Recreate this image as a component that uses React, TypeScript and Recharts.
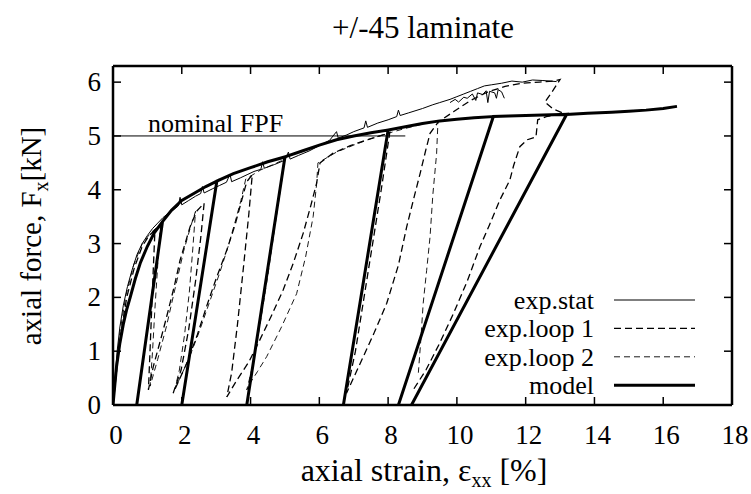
import React from 'react';
import { ComposedChart, Line, XAxis, YAxis, Legend, Customized } from 'recharts';

const xTicks = [0, 2, 4, 6, 8, 10, 12, 14, 16, 18];
const yTicks = [0, 1, 2, 3, 4, 5, 6];
const xDomain = [0, 18];
const yDomain = [0, 6.3];

const titleText = '+/-45 laminate';
const fpfLabel = 'nominal FPF';
const fpfPoints: [number, number][] = [[0, 5], [8.5, 5]];

const statPoints: [number, number][] = [
  [0, 0], [0.05, 0.45], [0.12, 1.0], [0.2, 1.45], [0.3, 1.85], [0.42, 2.2], [0.55, 2.5], [0.7, 2.8],
  [0.85, 3.0], [1.0, 3.15], [1.15, 3.28], [1.3, 3.38], [1.45, 3.48], [1.6, 3.56], [1.75, 3.62],
  [1.9, 3.7], [1.95, 3.86], [2.0, 3.72], [2.2, 3.8], [2.4, 3.88], [2.55, 3.93], [2.6, 4.06],
  [2.65, 3.94], [2.9, 4.02], [3.1, 4.08], [3.3, 4.14], [3.4, 4.29], [3.45, 4.15], [3.7, 4.22],
  [3.9, 4.28], [4.1, 4.34], [4.3, 4.38], [4.35, 4.52], [4.4, 4.4], [4.7, 4.47], [5.0, 4.55],
  [5.1, 4.7], [5.15, 4.57], [5.4, 4.64], [5.7, 4.72], [6.0, 4.82], [6.3, 4.92], [6.5, 5.08],
  [6.55, 4.96], [6.8, 5.02], [7.0, 5.08], [7.3, 5.15], [7.35, 5.28], [7.4, 5.16], [7.7, 5.24],
  [8.0, 5.3], [8.25, 5.36], [8.3, 5.48], [8.35, 5.38], [8.6, 5.43], [9.0, 5.51], [9.3, 5.58],
  [9.5, 5.62], [9.8, 5.68], [10.0, 5.73], [10.2, 5.78], [10.4, 5.83], [10.6, 5.88], [10.8, 5.93],
  [11.0, 5.95], [11.3, 5.98], [11.6, 6.02], [11.9, 6.0], [12.2, 6.04], [12.5, 6.03], [12.9, 6.01],
];

const statBandPoints: [number, number][] = [
  [9.8, 5.62], [9.95, 5.68], [10.05, 5.63], [10.2, 5.72], [10.3, 5.7], [10.45, 5.78], [10.55, 5.66],
  [10.6, 5.8], [10.75, 5.77], [10.85, 5.84], [10.9, 5.62], [10.95, 5.83], [11.1, 5.8], [11.15, 5.7],
  [11.2, 5.86], [11.3, 5.82], [11.38, 5.7],
];

const loop1Points: [number, number][] = [
  [0, 0], [0.1, 0.6], [0.22, 1.3], [0.4, 2.0], [0.62, 2.55], [0.85, 2.95], [1.05, 3.15], [1.22, 3.25],
  [1.17, 2.5], [1.12, 1.7], [1.07, 0.9], [1.03, 0.28],
  [1.17, 0.71], [1.4, 1.25], [1.56, 1.64], [1.78, 2.2], [1.95, 2.69], [2.12, 3.05], [2.24, 3.31],
  [2.43, 3.6], [2.65, 3.75],
  [2.55, 3.1], [2.4, 2.3], [2.2, 1.4], [1.98, 0.65], [1.75, 0.22],
  [2.14, 0.77], [2.45, 1.3], [2.72, 1.83], [3.0, 2.35], [3.31, 2.88], [3.55, 3.35], [3.69, 3.68],
  [3.89, 4.15], [4.05, 4.28],
  [3.95, 3.55], [3.8, 2.6], [3.62, 1.5], [3.45, 0.6], [3.31, 0.15],
  [3.6, 0.46], [3.95, 0.8], [4.27, 1.21], [4.6, 1.65], [4.95, 2.14], [5.25, 2.65], [5.53, 3.19],
  [5.75, 3.7], [5.92, 4.12], [6.02, 4.5], [6.4, 4.68], [6.9, 4.82], [7.4, 4.93], [7.9, 5.03],
  [8.05, 5.07],
  [7.8, 4.0], [7.55, 3.0], [7.3, 2.0], [7.05, 1.0], [6.79, 0.22],
  [7.28, 0.9], [7.6, 1.35], [7.96, 1.89], [8.3, 2.6], [8.54, 3.31], [8.75, 3.85], [8.93, 4.3],
  [9.1, 4.75], [9.22, 5.05], [9.46, 5.26], [9.9, 5.45], [10.4, 5.66], [10.9, 5.82], [11.4, 5.92],
  [11.9, 5.98], [12.4, 6.0], [12.8, 6.02], [13.0, 6.05],
  [12.8, 5.85], [12.56, 5.63], [12.8, 5.5], [13.1, 5.42], [12.6, 5.36], [12.35, 5.3], [12.3, 4.98],
  [12.05, 4.93], [11.83, 4.8], [11.65, 4.45], [11.54, 4.18], [11.25, 3.81], [10.95, 3.35],
  [10.67, 2.94], [10.3, 2.3], [9.9, 1.7], [9.5, 1.15], [9.1, 0.65], [8.73, 0.28],
];

const loop2Points: [number, number][] = [
  [0, 0], [0.08, 0.6], [0.2, 1.35], [0.38, 2.05], [0.6, 2.6], [0.85, 3.0], [1.1, 3.2], [1.38, 3.36],
  [1.3, 2.6], [1.22, 1.8], [1.15, 1.0], [1.08, 0.35],
  [1.3, 0.85], [1.55, 1.45], [1.8, 2.15], [2.05, 2.85], [2.25, 3.3], [2.4, 3.6],
  [2.32, 2.9], [2.22, 2.1], [2.08, 1.3], [1.93, 0.65], [1.8, 0.3],
  [2.2, 0.85], [2.5, 1.35], [2.8, 1.9], [3.1, 2.45], [3.35, 2.95], [3.55, 3.4], [3.72, 3.8],
  [3.86, 4.2], [4.3, 4.37], [4.7, 4.48], [5.0, 4.57],
  [4.75, 3.5], [4.5, 2.4], [4.25, 1.4], [4.05, 0.7], [3.89, 0.28],
  [3.98, 0.4], [4.2, 0.62], [4.47, 0.9], [4.9, 1.45], [5.34, 2.07], [5.6, 2.75], [5.82, 3.5],
  [5.92, 4.1], [5.96, 4.5], [6.5, 4.7], [7.0, 4.83], [7.5, 4.95], [8.0, 5.05], [8.5, 5.14],
  [9.0, 5.22], [9.45, 5.28],
  [9.41, 4.67], [9.3, 3.9], [9.22, 3.13], [9.12, 2.5], [9.02, 1.89], [8.95, 1.2], [8.88, 0.6],
];

const modelPoints: [number, number][] = [
  [0, 0], [0.1, 0.7], [0.2, 1.15], [0.3, 1.5], [0.4, 1.78], [0.5, 2.0], [0.65, 2.35], [0.8, 2.65],
  [1.0, 2.95], [1.2, 3.2], [1.44, 3.41], [0.69, 0], [1.44, 3.41],
  [1.7, 3.62], [2.0, 3.8], [2.4, 3.95], [2.7, 4.06], [3.02, 4.16], [2.0, 0], [3.02, 4.16],
  [3.5, 4.3], [4.0, 4.41], [4.5, 4.52], [5.0, 4.61], [3.89, 0], [5.0, 4.61],
  [5.5, 4.72], [6.0, 4.83], [6.5, 4.93], [7.0, 5.0], [7.5, 5.06], [8.0, 5.11], [6.7, 0], [8.0, 5.11],
  [8.5, 5.17], [9.0, 5.23], [9.5, 5.28], [10.0, 5.31], [10.5, 5.34], [11.06, 5.36], [8.3, 0],
  [11.06, 5.36],
  [11.5, 5.37], [12.0, 5.38], [12.5, 5.39], [13.19, 5.4], [8.68, 0], [13.19, 5.4],
  [13.8, 5.42], [14.5, 5.44], [15.0, 5.46], [15.5, 5.48], [16.0, 5.51], [16.4, 5.55],
];

const seriesNames = ['exp.stat', 'exp.loop 1', 'exp.loop 2', 'model'];

const toData = (pts: [number, number][]) => pts.map(([x, y]) => ({ x, y }));

const FONT = 'Liberation Serif';
const FS = 27;

const W = 751;
const H = 494;
// plot area: left 113, right 732, top 66, bottom 405
const AX = { left: 113, right: 19, top: 66, bottom: 89 };

const legendStyle: Record<string, { w: number; dash?: string }> = {
  'exp.stat': { w: 1.2 },
  'exp.loop 1': { w: 1.3, dash: '7 4' },
  'exp.loop 2': { w: 0.9, dash: '6 4' },
  model: { w: 3 },
};

const tickStyle = { fontFamily: FONT, fontSize: FS };
const titleStyle = { fontFamily: FONT, fontSize: 31 };
const xTitleStyle = { fontFamily: FONT, fontSize: 32 };
const yTitleStyle = { fontFamily: FONT, fontSize: 29 };
const legendTextStyle = { fontFamily: FONT, fontSize: 26 };
const fpfStyle = { fontFamily: FONT, fontSize: 26 };

const BottomTick = (props: any) => {
  const { x, y, payload } = props;
  return (
    <g>
      <line x1={x} x2={x} y1={y} y2={y - 8} stroke="#000" strokeWidth={1.5} />
      <text x={x + 3} y={y + 39} textAnchor="middle" style={tickStyle} fill="#000">
        {payload.value}
      </text>
    </g>
  );
};

const LeftTick = (props: any) => {
  const { x, y, payload } = props;
  return (
    <g>
      <line x1={x} x2={x + 8} y1={y} y2={y} stroke="#000" strokeWidth={1.5} />
      <text x={x - 12} y={y + 9} textAnchor="end" style={tickStyle} fill="#000">
        {payload.value}
      </text>
    </g>
  );
};

const TopTick = (props: any) => {
  const { x, y } = props;
  return <line x1={x} x2={x} y1={y} y2={y + 8} stroke="#000" strokeWidth={1.5} />;
};

const RightTick = (props: any) => {
  const { x, y } = props;
  return <line x1={x} x2={x - 8} y1={y} y2={y} stroke="#000" strokeWidth={1.5} />;
};

const Texts = () => (
  <g fill="#000">
    <text x={423} y={38} textAnchor="middle" style={titleStyle}>{titleText}</text>
    <text x={424} y={481} textAnchor="middle" style={xTitleStyle}>
      axial strain, ε<tspan style={{ fontSize: 20 }} dy={6}>xx</tspan>
      <tspan dy={-6}> [%]</tspan>
    </text>
    <text x={41} y={236} textAnchor="middle" style={yTitleStyle} transform="rotate(-90 41 236)">
      axial force, F<tspan style={{ fontSize: 20 }} dy={7}>x</tspan>
      <tspan dy={-7}>[kN]</tspan>
    </text>
    <text x={148} y={132} style={fpfStyle}>{fpfLabel}</text>
  </g>
);

const LEG = { left: 380, top: 270, width: 340, height: 140 };

const renderLegend = () => (
  <svg width={LEG.width} height={LEG.height} style={{ display: 'block', overflow: 'visible' }}>
    {seriesNames.map((name, i) => {
      const st = legendStyle[name];
      const cy = 30 + i * 28.4;
      return (
        <g key={name}>
          <text x={214} y={cy + 9} textAnchor="end" style={legendTextStyle} fill="#000">
            {name}
          </text>
          <line x1={234} x2={315} y1={cy} y2={cy} stroke="#000" strokeWidth={st.w} strokeDasharray={st.dash} />
        </g>
      );
    })}
  </svg>
);

export default function App() {
  return (
    <div style={{ position: 'absolute', left: 0, top: 0, width: W, height: H, background: '#fff', fontFamily: FONT }}>
      <ComposedChart width={W} height={H} margin={{ top: 0, right: 0, bottom: 0, left: 0 }}>
        <XAxis
          xAxisId={0}
          type="number"
          dataKey="x"
          domain={xDomain}
          ticks={xTicks}
          height={AX.bottom}
          tickSize={0}
          tickMargin={0}
          tickLine={false}
          tick={BottomTick}
          axisLine={{ stroke: '#000', strokeWidth: 2.5 }}
          allowDataOverflow
        />
        <XAxis
          xAxisId="top"
          orientation="top"
          type="number"
          dataKey="x"
          domain={xDomain}
          ticks={xTicks}
          height={AX.top}
          tickSize={0}
          tickMargin={0}
          tickLine={false}
          tick={TopTick}
          axisLine={{ stroke: '#000', strokeWidth: 2.5 }}
          allowDataOverflow
        />
        <YAxis
          yAxisId={0}
          type="number"
          domain={yDomain}
          ticks={yTicks}
          width={AX.left}
          tickSize={0}
          tickMargin={0}
          tickLine={false}
          tick={LeftTick}
          axisLine={{ stroke: '#000', strokeWidth: 2.5 }}
          allowDataOverflow
        />
        <YAxis
          yAxisId="right"
          orientation="right"
          type="number"
          domain={yDomain}
          ticks={yTicks}
          width={AX.right}
          tickSize={0}
          tickMargin={0}
          tickLine={false}
          tick={RightTick}
          axisLine={{ stroke: '#000', strokeWidth: 2.5 }}
          allowDataOverflow
        />
        <Line data={toData(fpfPoints)} dataKey="y" stroke="#000" strokeWidth={1} dot={false} isAnimationActive={false} legendType="none" name="FPF" />
        <Line data={toData(statPoints)} dataKey="y" name={seriesNames[0]} stroke="#000" strokeWidth={1} dot={false} isAnimationActive={false} />
        <Line data={toData(statBandPoints)} dataKey="y" name="stat band" stroke="#000" strokeWidth={1} dot={false} isAnimationActive={false} legendType="none" />
        <Line data={toData(loop1Points)} dataKey="y" name={seriesNames[1]} stroke="#000" strokeWidth={1.3} strokeDasharray="7 4" dot={false} isAnimationActive={false} />
        <Line data={toData(loop2Points)} dataKey="y" name={seriesNames[2]} stroke="#000" strokeWidth={0.9} strokeDasharray="6 4" dot={false} isAnimationActive={false} />
        <Line data={toData(modelPoints)} dataKey="y" name={seriesNames[3]} stroke="#000" strokeWidth={3} dot={false} isAnimationActive={false} />
        <Legend
          layout="vertical"
          align="center"
          verticalAlign="middle"
          content={renderLegend}
          wrapperStyle={{ position: 'absolute', left: LEG.left, top: LEG.top, width: LEG.width, height: LEG.height }}
        />
        <Customized component={Texts} />
      </ComposedChart>
    </div>
  );
}
